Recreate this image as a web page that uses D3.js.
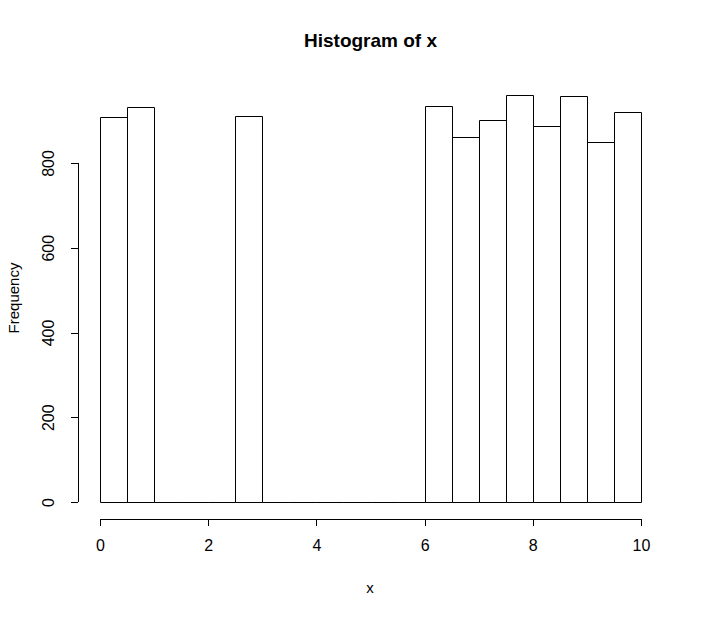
<!DOCTYPE html>
<html><head><meta charset="utf-8">
<script src="https://cdn.jsdelivr.net/npm/d3@7"></script>
<style>body{margin:0;background:#fff}svg{display:block}text{font-family:"Liberation Sans",Arial,sans-serif}</style>
</head><body>
<svg id="c" width="703" height="617"></svg>
<script>
const binEdges = [0,0.5,1,1.5,2,2.5,3,3.5,4,4.5,5,5.5,6,6.5,7,7.5,8,8.5,9,9.5,10];
const counts = [908,932,0,0,0,910,0,0,0,0,0,0,934,861,901,960,887,957,849,920];
const xTicks = [0,2,4,6,8,10];
const yTicks = [0,200,400,600,800];
const title = "Histogram of x";
const xLabel = "x";
const yLabel = "Frequency";

const svg = d3.select("#c");
const maxC = d3.max(counts);
const x = d3.scaleLinear().domain([-0.4,10.4]).range([78.4,662.6]);
const y = d3.scaleLinear().domain([-0.04*maxC, 1.04*maxC]).range([518.3, 502 - 1.04*maxC*0.42375]);

const bins = counts.map((c,i)=>({x0:binEdges[i],x1:binEdges[i+1],c}));
const r = v => Math.round(v)+0.5;
svg.append("g").selectAll("path").data(bins).join("path")
  .attr("d",d=>{
    const x0=r(x(d.x0)), x1=r(x(d.x1)), y0=r(y(0)), y1=r(y(d.c));
    return `M${x0},${y0}V${y1}H${x1}V${y0}Z`;
  })
  .attr("fill","none").attr("stroke","#000").attr("stroke-width",1);

const xa = svg.append("g").attr("transform",`translate(0,${519})`)
  .call(d3.axisBottom(x).tickValues(xTicks).tickSize(7).tickPadding(14).tickFormat(d3.format("d")));
const ya = svg.append("g").attr("transform",`translate(${78},0)`)
  .call(d3.axisLeft(y).tickValues(yTicks).tickSize(7).tickPadding(0).tickFormat(d3.format("d")));
[xa,ya].forEach(a=>{
  a.select(".domain").remove();
  a.selectAll("line").attr("stroke","#000").attr("shape-rendering","crispEdges");
  a.selectAll("text").attr("fill","#000").style("font-size","16px");
});
xa.append("line").attr("x1",x(0)).attr("x2",x(10)).attr("stroke","#000").attr("shape-rendering","crispEdges");
ya.append("line").attr("y1",y(0)).attr("y2",y(800)).attr("stroke","#000").attr("shape-rendering","crispEdges");
ya.selectAll(".tick text").attr("transform","rotate(-90)").attr("x",0).attr("y",-24).attr("dy","0").attr("text-anchor","middle");

svg.append("text").attr("x",370.5).attr("y",47).attr("text-anchor","middle")
  .style("font-size","19px").style("font-weight","bold").text(title);
svg.append("text").attr("x",370).attr("y",593).attr("text-anchor","middle")
  .style("font-size","15px").text(xLabel);
svg.append("text").attr("transform","translate(19,298) rotate(-90)").attr("text-anchor","middle")
  .style("font-size","15px").text(yLabel);
</script>
</body></html>
